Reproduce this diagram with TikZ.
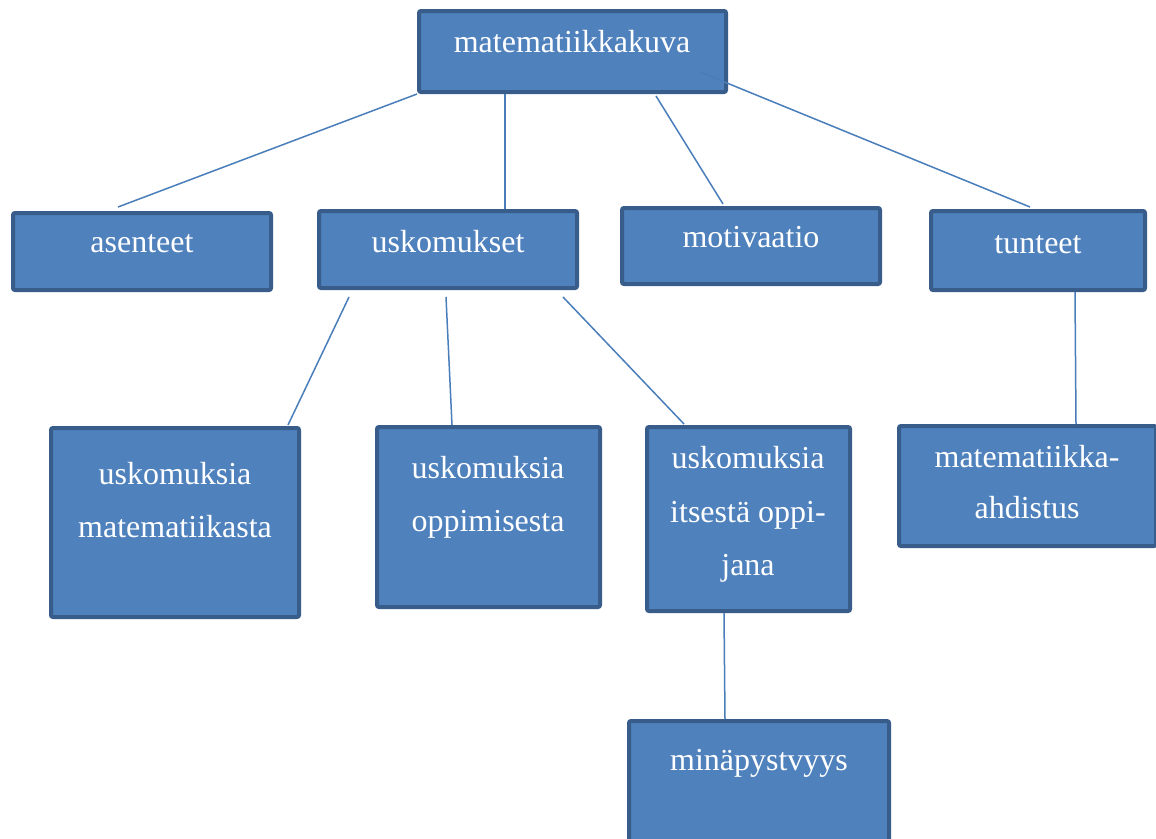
\documentclass[tikz,border=0pt]{standalone}
\usepackage{fontspec}
\setmainfont{Liberation Serif}
\definecolor{boxfill}{HTML}{4F81BD}
\definecolor{boxline}{HTML}{385D8A}
\definecolor{conn}{HTML}{4A7EBB}
\tikzset{
  box/.style={draw=boxline, fill=boxfill, line width=4pt, rounded corners=2pt, inner sep=0pt, outer sep=0pt},
  lbl/.style={text=white, font=\fontsize{32}{53}\selectfont, inner sep=0pt, anchor=base, align=center},
  conn/.style={draw=conn, line width=1.5pt}
}
\newcommand{\bx}[5]{% name, x1, y1, x2, y2 (outer edges)
  \node[box, minimum width={#4-#2-4}, minimum height={#5-#3-4}] (#1) at ({(#2+#4)/2},{(#3+#5)/2}) {};}
\begin{document}
\begin{tikzpicture}[x=1pt,y=-1pt]
\useasboundingbox (0,0) rectangle (1156,838);
\clip (0,0) rectangle (1156,838);
\fill[white] (0,0) rectangle (1156,838);
% boxes
\bx{top}{417}{9}{728}{94}
\bx{asenteet}{11}{211}{273}{292}
\bx{usk}{317}{209}{579}{290}
\bx{moti}{620}{206}{882}{286}
\bx{tunt}{929}{209}{1147}{292}
\bx{umat}{49}{426}{301}{619}
\bx{uopp}{375}{425}{602}{609}
\bx{uits}{645}{425}{852}{613}
\bx{ahd}{897}{424}{1158}{548}
\bx{mina}{627}{719}{891}{860}
% texts
\node[lbl] (ttop) at (572,52) {matematiikkakuva};
\node[lbl] (tase) at (142,252) {asenteet};
\node[lbl] (tusk) at (448,252) {uskomukset};
\node[lbl] (tmoti) at (751,247) {motivaatio};
\node[lbl] (ttunt) at (1038,253) {tunteet};
\node[lbl] (tumat1) at (175,484) {uskomuksia};
\node[lbl] (tumat2) at (175,537) {matematiikasta};
\node[lbl] (tuopp1) at (488,478) {uskomuksia};
\node[lbl] (tuopp2) at (488,531) {oppimisesta};
\node[lbl] (tuits1) at (748,468) {uskomuksia};
\node[lbl] (tuits2) at (748,522) {itsestä oppi-};
\node[lbl] (tuits3) at (748,575) {jana};
\node[lbl] (tahd1) at (1027,467) {matematiikka-};
\node[lbl] (tahd2) at (1027,518) {ahdistus};
\node[lbl] (tmina) at (759,770) {minäpystvyys};
% connector free ends
\coordinate (a1) at (417,94);   \coordinate (a2) at (118,207);
\coordinate (b1) at (505,94);   \coordinate (b2) at (505,209);
\coordinate (c1) at (656,96);   \coordinate (c2) at (723,204);
\coordinate (d1) at (700,72);   \coordinate (d2) at (1030,207);
\coordinate (e1) at (349,297);  \coordinate (e2) at (288,425);
\coordinate (f1) at (446,297);  \coordinate (f2) at (452,425);
\coordinate (g1) at (563,297);  \coordinate (g2) at (684,424);
\coordinate (h1) at (1075,292); \coordinate (h2) at (1076,424);
\coordinate (i1) at (724,613);  \coordinate (i2) at (725,719);
\foreach \p in {a,b,c,d,e,f,g,h,i} \draw[conn] (\p1) -- (\p2);
\end{tikzpicture}
\end{document}
